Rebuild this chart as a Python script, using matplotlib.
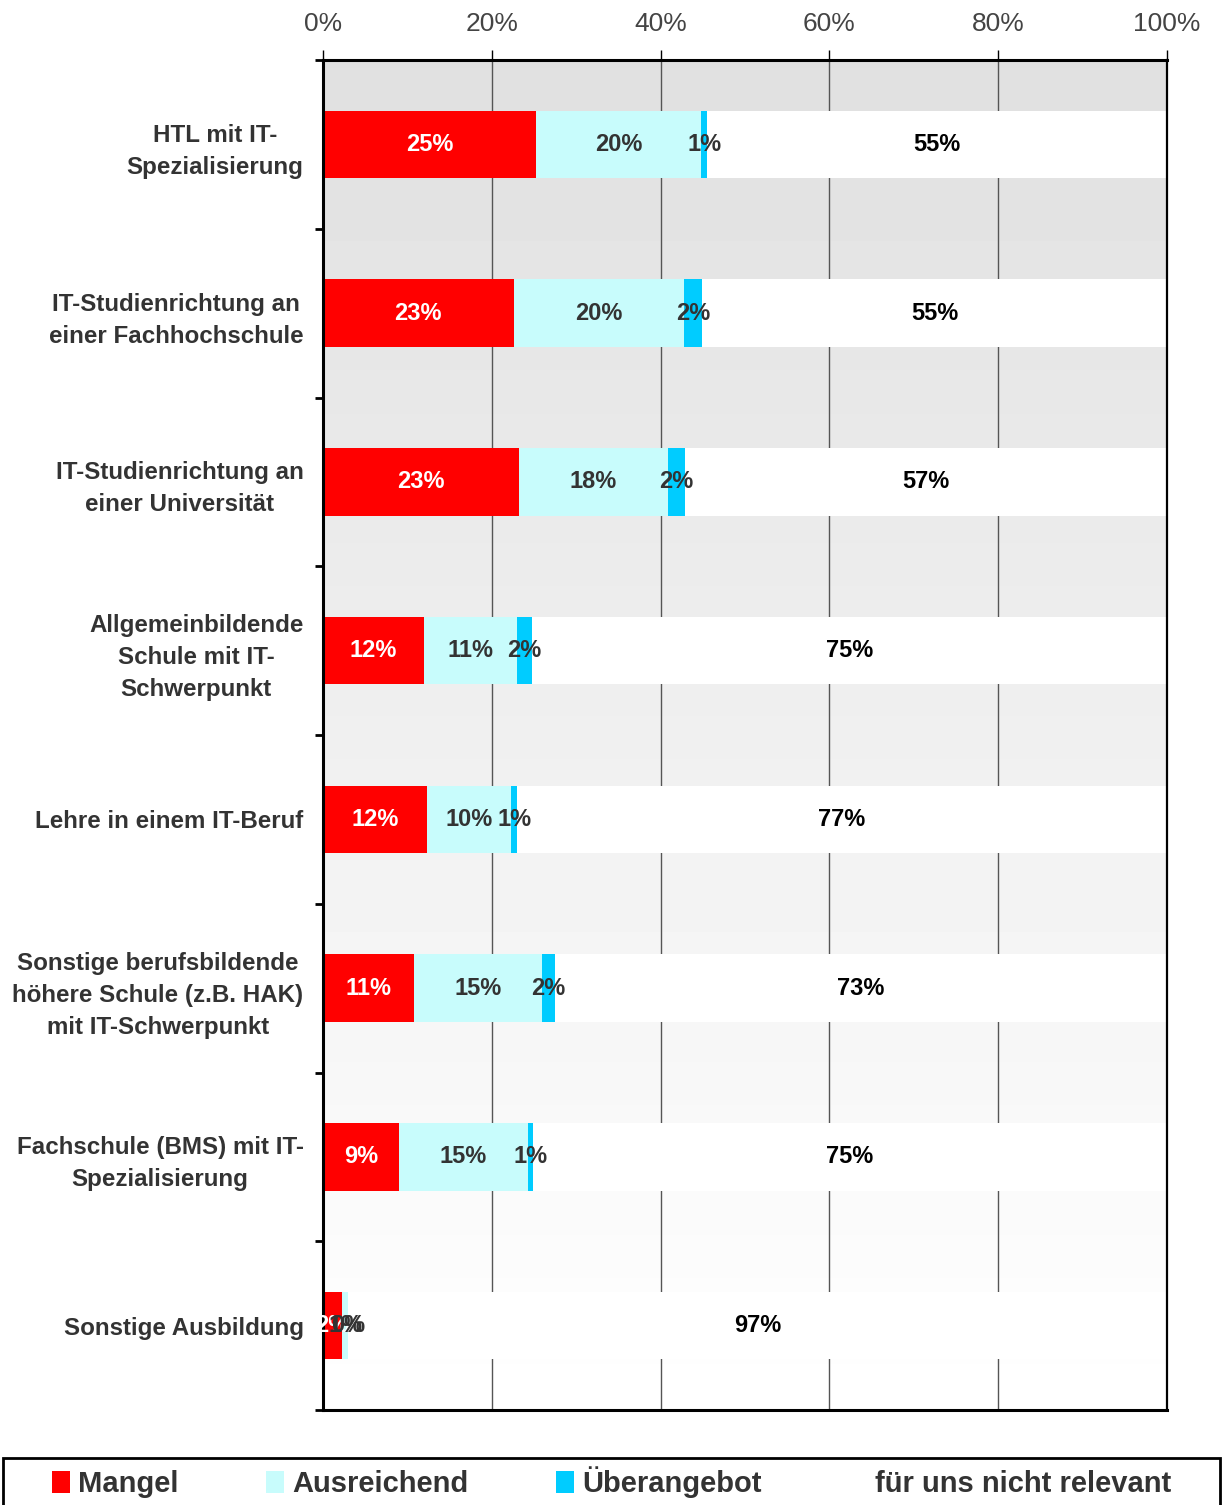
import matplotlib
matplotlib.use("Agg")
import matplotlib.pyplot as plt
import numpy as np
from matplotlib.patches import Patch, Rectangle

plt.rcParams['font.family'] = ['Liberation Sans', 'DejaVu Sans']

# data (percent of respondents)
categories = [
    "HTL mit IT-\nSpezialisierung",
    "IT-Studienrichtung an\neiner Fachhochschule",
    "IT-Studienrichtung an\neiner Universität",
    "Allgemeinbildende\nSchule mit IT-\nSchwerpunkt",
    "Lehre in einem IT-Beruf",
    "Sonstige berufsbildende\nhöhere Schule (z.B. HAK)\nmit IT-Schwerpunkt",
    "Fachschule (BMS) mit IT-\nSpezialisierung",
    "Sonstige Ausbildung",
]
mangel = [25.2, 22.6, 23.2, 12.0, 12.3, 10.8, 9.0, 2.3]
ausreichend = [19.6, 20.2, 17.7, 11.0, 10.0, 15.1, 15.3, 0.7]
ueberangebot = [0.7, 2.1, 2.0, 1.8, 0.7, 1.6, 0.6, 0.0]
nicht_relevant = [54.6, 55.1, 57.1, 75.2, 77.0, 72.6, 75.2, 97.0]

series_names = ["Mangel", "Ausreichend", "Überangebot", "für uns nicht relevant"]
series_colors = ["#ff0000", "#c8fcfc", "#00ccff", "#ffffff"]
label_colors = ["white", "#333333", "#333333", "black"]
xticks = [0, 20, 40, 60, 80, 100]

fig = plt.figure(figsize=(12.23, 15.05), dpi=100)
ax = fig.add_axes([323/1223, 1-1410/1505, (1167-323)/1223, (1410-60)/1505])

# grey gradient background of the plot area
grad = np.linspace(224/255, 1.0, 256).reshape(-1, 1)
ax.imshow(grad, extent=(0, 100, 7.5, -0.5), aspect='auto', cmap='gray',
          vmin=0, vmax=1, zorder=0, interpolation='bilinear')

y = np.arange(len(categories))
left = np.zeros(len(categories))
for vals, col, tcol in zip([mangel, ausreichend, ueberangebot, nicht_relevant],
                           series_colors, label_colors):
    bars = ax.barh(y, vals, left=left, height=0.40, color=col, zorder=2)
    ax.bar_label(bars, labels=[f"{v:.0f}%" for v in vals], label_type='center',
                 color=tcol, fontsize=17, fontweight='bold')
    left = left + np.array(vals)

ax.set_xlim(0, 100)
ax.set_ylim(7.5, -0.5)

ax.xaxis.tick_top()
ax.set_xticks(xticks)
ax.set_xticklabels([f"{t}%" for t in xticks])
ax.tick_params(axis='x', length=7.2, width=1, color='black', pad=10,
               labelsize=19, labelcolor='#444444')
ax.set_axisbelow(True)
ax.xaxis.grid(True, color='#555555', linewidth=1)

ax.set_yticks(y)
ax.set_yticklabels(categories)
ax.set_yticks(np.arange(-0.5, 8, 1), minor=True)
ax.tick_params(axis='y', which='major', length=0, pad=14,
               labelsize=17.4, labelcolor='#333333')
ax.tick_params(axis='y', which='minor', length=6, width=2, color='black')
for lab in ax.get_yticklabels():
    lab.set_fontweight('bold')
    lab.set_multialignment('center')
    lab.set_linespacing(1.5)

for side in ['left', 'top', 'bottom']:
    ax.spines[side].set_linewidth(2.2)
    ax.spines[side].set_color('black')
ax.spines['right'].set_linewidth(1.6)
ax.spines['right'].set_color('black')

# legend box at the bottom
fig.add_artist(Rectangle((3/1223, -0.05), 1217/1223, 1-1458/1505+0.05,
                         transform=fig.transFigure, fill=False,
                         edgecolor='black', linewidth=2, clip_on=False))
handles = [Patch(facecolor=c, edgecolor='none') for c in series_colors]
fig.legend(handles, series_names, ncol=4, loc='center',
           bbox_to_anchor=(0.5, 1-1482/1505), frameon=False,
           prop={'size': 21, 'weight': 'bold'}, labelcolor='#333333',
           handlelength=0.62, handleheight=0.76, handletextpad=0.28,
           columnspacing=3.0, borderpad=0)

fig.savefig("out.png", dpi=100)
